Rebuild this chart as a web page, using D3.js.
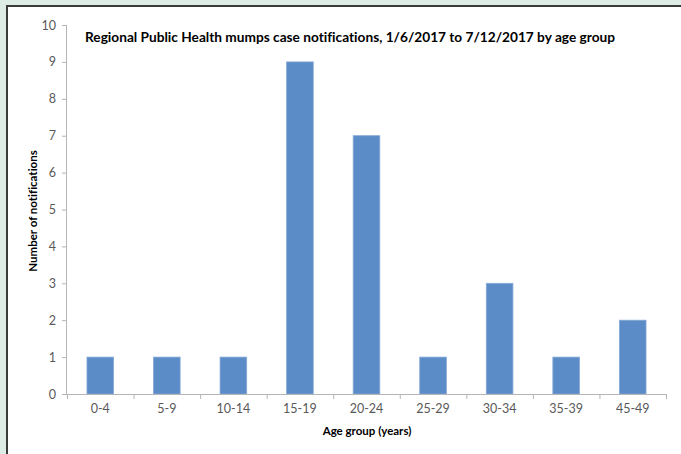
<!DOCTYPE html>
<html><head><meta charset="utf-8">
<script src="https://cdn.jsdelivr.net/npm/d3@7/dist/d3.min.js"></script>
<style>
html,body{margin:0;padding:0;background:#ddede6;}
svg{display:block;}
text{font-variant-ligatures:none;}
</style></head>
<body>
<svg id="c" width="681" height="454"></svg>
<script>
const categories = ["0-4","5-9","10-14","15-19","20-24","25-29","30-34","35-39","45-49"];
const values = [1,1,1,9,7,1,3,1,2];
const yTicks = [0,1,2,3,4,5,6,7,8,9,10];
const titleText = "Regional Public Health mumps case notifications, 1/6/2017 to 7/12/2017 by age group";
const xTitle = "Age group (years)";
const yTitle = "Number of notifications";

const svg = d3.select("#c");
const font = "Lato, 'Open Sans', sans-serif";
// panel
svg.append("rect").attr("x",0).attr("y",0).attr("width",681).attr("height",454).attr("fill","#ddede6");
svg.append("rect").attr("x",6).attr("y",5).attr("width",700).attr("height",480).attr("fill","#ffffff");
svg.append("path").attr("d","M7,460V6H690").attr("fill","none").attr("stroke","#3a3a3a").attr("stroke-width",2);

const m = {l:67, r:666, t:25, b:394};
const x = d3.scaleBand().domain(categories).range([m.l,m.r]).padding(0);
const y = d3.scaleLinear().domain([0,10]).range([m.b,m.t]);
const axisColor = "#b5b5b5";

// bars
const bw = x.bandwidth()*0.4;
svg.append("g").selectAll("rect").data(values).join("rect")
  .attr("x",(d,i)=>x(categories[i])+x.bandwidth()/2-bw/2)
  .attr("y",d=>y(d))
  .attr("width",bw)
  .attr("height",d=>y(0)-y(d))
  .attr("fill","#5b8cc7")
  .attr("stroke","#86a9d6").attr("stroke-width",0.8);

// y axis
const ya = svg.append("g").attr("transform",`translate(${m.l},0)`)
  .call(d3.axisLeft(y).tickValues(yTicks).tickSize(5).tickPadding(6).tickFormat(d3.format("d")));
ya.select(".domain").attr("stroke",axisColor).attr("d",`M-0.5,${m.t}V${m.b}`);
ya.selectAll(".tick line").attr("stroke",axisColor);
ya.selectAll("text").attr("fill","#595959").style("font-family",font).style("font-size","12.5px");

// x axis
const xa = svg.append("g").attr("transform",`translate(0,${m.b})`)
  .call(d3.axisBottom(x).tickSize(0).tickPadding(10));
xa.select(".domain").attr("stroke",axisColor).attr("d",`M${m.l},0.5H${m.r}`);
xa.selectAll("text").attr("fill","#595959").style("font-family",font).style("font-size","12.5px");
const bounds = categories.map(c=>x(c)).concat([m.r]);
svg.append("g").selectAll("line").data(bounds).join("line")
  .attr("x1",d=>d+0.5).attr("x2",d=>d+0.5).attr("y1",m.b).attr("y2",m.b+5)
  .attr("stroke",axisColor);

// titles
svg.append("text").attr("x",350).attr("y",42).attr("text-anchor","middle")
  .style("font-family",font).style("font-weight","bold").style("font-size","13.5px")
  .attr("fill","#000").attr("textLength",530).attr("lengthAdjust","spacingAndGlyphs").text(titleText);
svg.append("text").attr("x",367).attr("y",435).attr("text-anchor","middle")
  .style("font-family",font).style("font-weight","bold").style("font-size","11.5px")
  .attr("fill","#000").text(xTitle);
svg.append("text").attr("transform","translate(37,211) rotate(-90)").attr("text-anchor","middle")
  .style("font-family",font).style("font-weight","bold").style("font-size","11.5px")
  .attr("fill","#000").text(yTitle);
</script>
</body></html>
